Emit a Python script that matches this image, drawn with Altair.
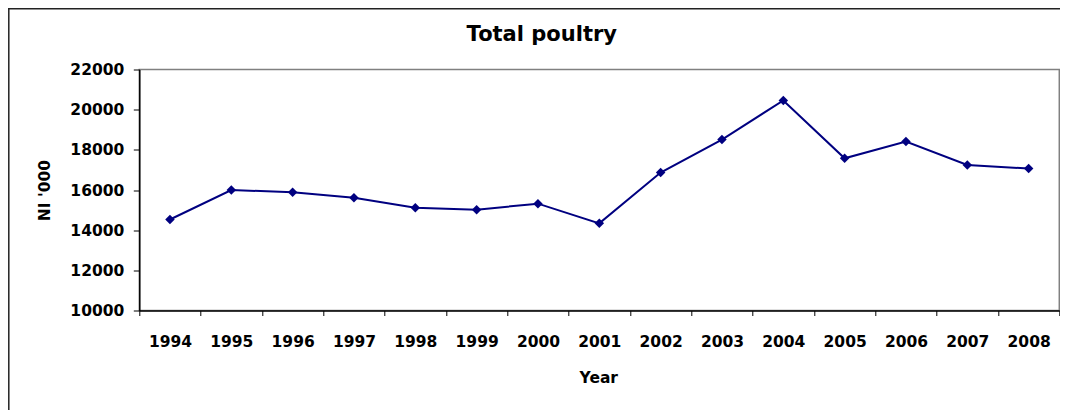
import altair as alt
import pandas as pd

years = ["1994", "1995", "1996", "1997", "1998", "1999", "2000", "2001",
         "2002", "2003", "2004", "2005", "2006", "2007", "2008"]
poultry = [14530, 16000, 15890, 15610, 15120, 15020, 15320, 14340,
           16870, 18510, 20460, 17580, 18410, 17250, 17070]
y_ticks = [10000, 12000, 14000, 16000, 18000, 20000, 22000]

df = pd.DataFrame({"Year": years, "Value": poultry})

FONT = "DejaVu Sans"
NAVY = "#000080"

x_enc = alt.X(
    "Year:N",
    bandPosition=0.5,
    sort=years,
    scale=alt.Scale(type="band", paddingInner=0, paddingOuter=0),
    axis=alt.Axis(
        title="Year",
        tickBand="extent",
        labelAngle=0,
        labelFont=FONT, labelFontSize=15.5, labelFontWeight="bold", labelColor="black",
        labelBaseline="alphabetic", labelPadding=31,
        tickSize=5, tickColor="black", tickWidth=1,
        domainColor="black", domainWidth=1.5,
        grid=False,
        titleFont=FONT, titleFontSize=15.5, titleFontWeight="bold", titleColor="black",
        titleX=459, titleY=72, titleAlign="center", titleBaseline="alphabetic",
    ),
)
y_enc = alt.Y(
    "Value:Q",
    scale=alt.Scale(domain=[10000, 22000], nice=False, zero=False),
    axis=alt.Axis(
        title="NI '000",
        values=y_ticks,
        format="d",
        labelFont=FONT, labelFontSize=15.5, labelFontWeight="bold", labelColor="black",
        labelPadding=9.5, tickSize=6, tickColor="black", tickWidth=1,
        domainColor="black", domainWidth=1.5,
        grid=False,
        titleFont=FONT, titleFontSize=15.5, titleFontWeight="bold", titleColor="black",
        titleX=-95, titleY=120.5, titleAngle=270, titleAlign="center", titleBaseline="middle",
    ),
)

line = alt.Chart(df).mark_line(color=NAVY, strokeWidth=2).encode(x=x_enc, y=y_enc)
pts = alt.Chart(df).mark_point(shape="diamond", filled=True, color=NAVY, size=90, opacity=1).encode(
    x=x_enc, y=y_enc
)

frame = alt.Data(values=[{"a": 1}])
left_border = alt.Chart(frame).mark_rule(color="#222222", strokeWidth=1.5).encode(
    x=alt.value(-130.5), y=alt.value(-60.7), y2=alt.value(400)
)
top_border = alt.Chart(frame).mark_rule(color="#222222", strokeWidth=1.5).encode(
    x=alt.value(-132), x2=alt.value(945), y=alt.value(-60.7)
)

chart = (
    alt.layer(left_border, top_border, line, pts)
    .properties(
        width=920,
        height=241,
        title=alt.TitleParams(
            "Total poultry", font=FONT, fontSize=21, fontWeight="bold", color="black",
            anchor="middle", frame="group", dx=-57.5, baseline="alphabetic", offset=-54,
        ),
        autosize=alt.AutoSizeParams(type="none"),
        padding={"left": 131.3, "top": 61.5, "right": 0.7, "bottom": 99.5},
        background="white",
    )
    .configure_view(stroke="#808080", strokeWidth=1.5)
)

chart.save("out.html", embed_options={"renderer": "svg", "actions": False})
